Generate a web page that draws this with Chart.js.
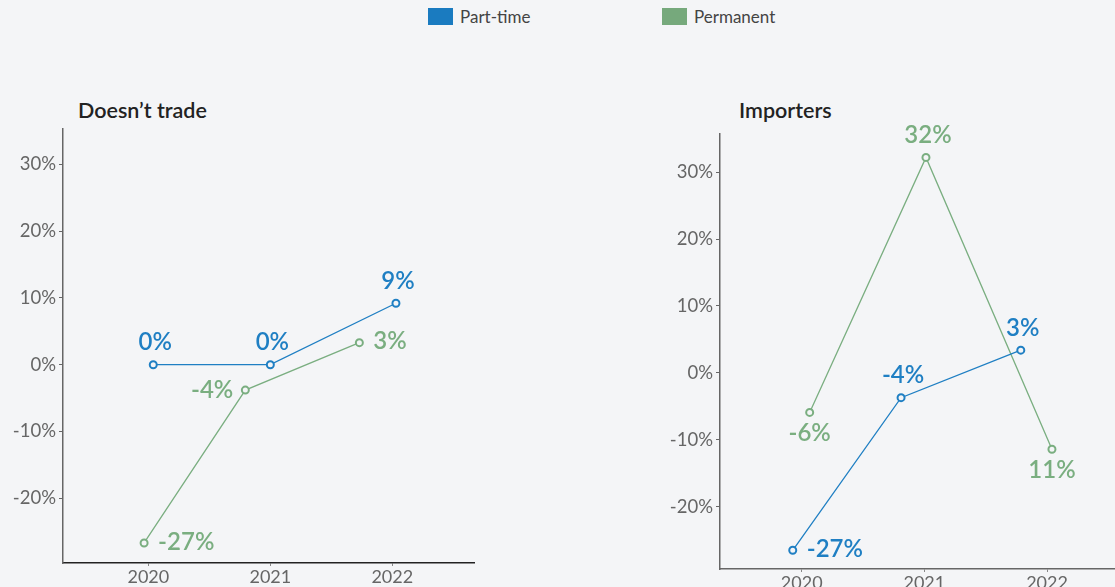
<!DOCTYPE html>
<html>
<head>
<meta charset="utf-8">
<script src="https://cdn.jsdelivr.net/npm/chart.js@4.4.1/dist/chart.umd.min.js"></script>
<style>
  html, body { margin: 0; padding: 0; overflow: hidden; background: #f4f5f7; }
  body { width: 1115px; height: 587px; position: relative; font-family: 'Lato', 'Open Sans', sans-serif; }
  .legend { position: absolute; top: 6px; left: 0; width: 100%; height: 20px; }
  .legend span.item { position: absolute; top: 0; display: flex; align-items: center; font-size: 17px; color: #444; }
  .legend i { display: inline-block; width: 25px; height: 17px; margin-right: 7px; }
  .panel-title { position: absolute; font-size: 21.5px; font-weight: 600; color: #222; }
  canvas { position: absolute; }
</style>
</head>
<body>
<div class="legend">
  <span class="item" style="left:428px"><i style="background:#1a7bc0"></i>Part-time</span>
  <span class="item" style="left:662px"><i style="background:#76a97c"></i>Permanent</span>
</div>
<div class="panel-title" style="left:78px; top:97px">Doesn’t trade</div>
<div class="panel-title" style="left:739px; top:97px">Importers</div>
<div style="position:absolute; left:0; top:90px; width:480px; height:497px"><canvas id="chartTrade"></canvas></div>
<div style="position:absolute; left:640px; top:90px; width:481px; height:497px"><canvas id="chartImport"></canvas></div>

<script>
// tick labels
const yearTicks = [2020, 2021, 2022];
const pctTicks = [-20, -10, 0, 10, 20, 30];

// Doesn't trade
const tradePartTimeX = [2020.04, 2021.0, 2022.03];
const tradePartTimeY = [0, 0, 9.2];
const tradePartTimeLabels = ['0%', '0%', '9%'];
const tradePermanentX = [2019.965, 2020.795, 2021.73];
const tradePermanentY = [-26.7, -3.8, 3.3];
const tradePermanentLabels = ['-27%', '-4%', '3%'];

// Importers
const importPartTimeX = [2019.927, 2020.81, 2021.786];
const importPartTimeY = [-26.5, -3.7, 3.4];
const importPartTimeLabels = ['-27%', '-4%', '3%'];
const importPermanentX = [2020.065, 2021.013, 2022.04];
const importPermanentY = [-5.9, 32.2, -11.4];
const importPermanentLabels = ['-6%', '32%', '11%'];

const BLUE = '#1f7fc3';
const GREEN = '#7aae80';
const BG = '#f4f5f7';
const FONT = "'Lato', 'Open Sans', sans-serif";

function toPoints(xs, ys) {
  return xs.map((x, i) => ({ x: x, y: ys[i] }));
}

// draws the value text next to each point
const pointLabels = {
  id: 'pointLabels',
  afterDatasetsDraw(chart) {
    const ctx = chart.ctx;
    ctx.save();
    ctx.font = '600 24px ' + FONT;
    chart.data.datasets.forEach((ds, i) => {
      const meta = chart.getDatasetMeta(i);
      ctx.fillStyle = ds.labelColor;
      meta.data.forEach((pt, j) => {
        const pos = ds.labelAlign[j];
        const text = ds.valueLabels[j];
        ctx.textBaseline = 'middle';
        if (pos === 'top') {
          ctx.textAlign = 'center';
          ctx.fillText(text, pt.x + 2, pt.y - 22);
        } else if (pos === 'bottom') {
          ctx.textAlign = 'center';
          ctx.fillText(text, pt.x, pt.y + 21);
        } else if (pos === 'right') {
          ctx.textAlign = 'left';
          ctx.fillText(text, pt.x + 14, pt.y - 1);
        } else {
          ctx.textAlign = 'right';
          ctx.fillText(text, pt.x - 12, pt.y);
        }
      });
    });
    ctx.restore();
  }
};

function lineDataset(label, points, color, labels, align) {
  return {
    label: label,
    data: points,
    borderColor: color,
    borderWidth: 1.3,
    pointRadius: 3.5,
    pointBorderWidth: 2,
    pointBackgroundColor: BG,
    pointBorderColor: color,
    labelColor: color,
    valueLabels: labels,
    labelAlign: align,
    tension: 0
  };
}

function makeChart(id, datasets, xRange, yRange, frame) {
  return new Chart(document.getElementById(id), {
    type: 'line',
    data: { datasets: datasets },
    options: {
      responsive: true,
      maintainAspectRatio: false,
      animation: false,
      layout: { padding: { top: frame.top, left: 0, right: 0, bottom: 0 } },
      plugins: { legend: { display: false }, tooltip: { enabled: false } },
      scales: {
        x: {
          type: 'linear',
          min: xRange[0],
          max: xRange[1],
          afterBuildTicks: s => { s.ticks = yearTicks.map(v => ({ value: v })); },
          afterFit: s => { s.height = frame.xHeight; },
          border: { display: true, color: frame.xColor, width: 1.5 },
          grid: { display: true, drawOnChartArea: false, drawTicks: true, tickLength: 3, color: '#888' },
          ticks: {
            color: '#666',
            padding: 0,
            font: { family: FONT, size: 18 },
            callback: v => String(v)
          }
        },
        y: {
          min: yRange[0],
          max: yRange[1],
          afterBuildTicks: s => { s.ticks = pctTicks.map(v => ({ value: v })); },
          afterFit: s => { s.width = frame.yWidth; },
          border: { display: true, color: '#666', width: 1.5 },
          grid: { display: true, drawOnChartArea: false, drawTicks: true, tickLength: 4, color: '#666' },
          ticks: {
            color: '#666',
            padding: 3,
            font: { family: FONT, size: 18.5 },
            callback: v => v + '%'
          }
        }
      }
    },
    plugins: [pointLabels]
  });
}

makeChart('chartTrade', [
  lineDataset('Part-time', toPoints(tradePartTimeX, tradePartTimeY), BLUE, tradePartTimeLabels, ['top', 'top', 'top']),
  lineDataset('Permanent', toPoints(tradePermanentX, tradePermanentY), GREEN, tradePermanentLabels, ['right', 'left', 'right'])
], [2019.30, 2022.67], [-29.7, 35.3], { top: 39, xHeight: 24, yWidth: 63, xColor: '#222' });

makeChart('chartImport', [
  lineDataset('Part-time', toPoints(importPartTimeX, importPartTimeY), BLUE, importPartTimeLabels, ['right', 'top', 'top']),
  lineDataset('Permanent', toPoints(importPermanentX, importPermanentY), GREEN, importPermanentLabels, ['bottom', 'top', 'bottom'])
], [2019.334, 2022.554], [-29.3, 35.7], { top: 44, xHeight: 18, yWidth: 80, xColor: '#666' });
</script>
</body>
</html>
